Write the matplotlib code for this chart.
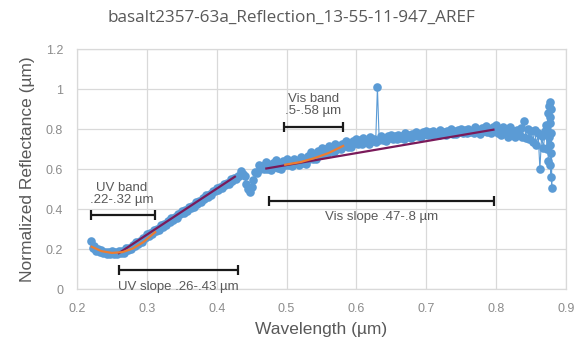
import numpy as np
import matplotlib
matplotlib.use("Agg")
import matplotlib.pyplot as plt

plt.rcParams["font.family"] = ["Liberation Sans", "DejaVu Sans"]

# ── Spectrum ─────────────────────────────────────────────────────────────────
WL_START = 0.220
WL_STEP = 0.0025
REFL_MAIN = [
    0.240, 0.205, 0.218, 0.190, 0.199, 0.186, 0.196, 0.180, 0.184, 0.175,
    0.186, 0.178, 0.189, 0.176, 0.184, 0.175, 0.190, 0.181, 0.189, 0.182,
    0.204, 0.195, 0.205, 0.200, 0.219, 0.217, 0.237, 0.227, 0.241, 0.237,
    0.258, 0.257, 0.275, 0.268, 0.281, 0.277, 0.295, 0.291, 0.301, 0.297,
    0.320, 0.313, 0.326, 0.320, 0.339, 0.338, 0.357, 0.347, 0.359, 0.356,
    0.375, 0.375, 0.391, 0.383, 0.396, 0.392, 0.411, 0.406, 0.416, 0.413,
    0.436, 0.428, 0.441, 0.436, 0.454, 0.453, 0.472, 0.462, 0.474, 0.470,
    0.490, 0.489, 0.505, 0.498, 0.510, 0.506, 0.525, 0.520, 0.530, 0.527,
    0.549, 0.542, 0.555, 0.549, 0.568, 0.567, 0.590, 0.575, 0.565, 0.524,
    0.500, 0.485, 0.510, 0.545, 0.588, 0.580, 0.622, 0.598, 0.615, 0.600,
    0.635, 0.602, 0.621, 0.594, 0.631, 0.612, 0.645, 0.606, 0.625, 0.602,
    0.639, 0.622, 0.650, 0.618, 0.640, 0.614, 0.652, 0.628, 0.641, 0.620,
    0.662, 0.631, 0.652, 0.627, 0.666, 0.649, 0.685, 0.649, 0.671, 0.651,
    0.691, 0.677, 0.707, 0.677, 0.701, 0.676, 0.715, 0.692, 0.705, 0.684,
    0.725, 0.702, 0.717, 0.698, 0.727, 0.714, 0.740, 0.712, 0.728, 0.711,
    0.740, 0.729, 0.750, 0.727, 0.744, 0.725, 0.754, 0.735, 0.744, 0.727,
    0.758, 0.739, 0.750, 0.735, 1.008, 0.746, 0.766, 0.743, 0.755, 0.742,
    0.764, 0.755, 0.771, 0.752, 0.765, 0.749, 0.772, 0.757, 0.764, 0.751,
    0.778, 0.759, 0.770, 0.755, 0.777, 0.766, 0.786, 0.763, 0.775, 0.762,
    0.784, 0.775, 0.791, 0.772, 0.785, 0.768, 0.791, 0.775, 0.782, 0.768,
    0.795, 0.775, 0.786, 0.770, 0.792, 0.780, 0.800, 0.776, 0.788, 0.774,
    0.796, 0.786, 0.802, 0.782, 0.795, 0.778, 0.801, 0.785, 0.792, 0.778,
    0.808, 0.783, 0.797, 0.776, 0.804, 0.789, 0.814, 0.784, 0.799, 0.780,
    0.812, 0.792, 0.819, 0.781, 0.802, 0.770, 0.809, 0.779, 0.789, 0.762,
    0.809, 0.771, 0.789, 0.758, 0.796, 0.773, 0.807, 0.762, 0.842, 0.754,
    0.800, 0.752, 0.790, 0.735, 0.796, 0.718, 0.780, 0.600, 0.765, 0.705,
    0.790,
]
# noisy end of the detector range
TAIL_WL = [0.8715, 0.8725, 0.8735, 0.8745, 0.8755, 0.8760, 0.8765, 0.8770,
           0.8775, 0.8780, 0.8785, 0.8790, 0.8795, 0.8785, 0.8775, 0.8770]
TAIL_REFL = [0.820, 0.700, 0.880, 0.640, 0.915, 0.760, 0.935, 0.860,
             0.620, 0.900, 0.560, 0.780, 0.505, 0.680, 0.830, 0.720]

# ── Fits ─────────────────────────────────────────────────────────────────────
UV_BAND_WL = [0.221, 0.235, 0.250, 0.265, 0.280, 0.295, 0.312]
UV_BAND_FIT = [0.212, 0.190, 0.181, 0.185, 0.203, 0.235, 0.285]
VIS_BAND_WL = [0.498, 0.520, 0.540, 0.560, 0.581]
VIS_BAND_FIT = [0.622, 0.635, 0.655, 0.680, 0.716]
UV_SLOPE_WL = [0.260, 0.426]
UV_SLOPE_FIT = [0.180, 0.562]
VIS_SLOPE_WL = [0.471, 0.796]
VIS_SLOPE_FIT = [0.603, 0.797]

# ── Range markers: (x0, x1, y) ───────────────────────────────────────────────
RANGES = [
    (0.220, 0.311, 0.370),  # UV band
    (0.260, 0.430, 0.098),  # UV slope
    (0.496, 0.581, 0.810),  # Vis band
    (0.475, 0.797, 0.440),  # Vis slope
]

BLUE = "#5B9BD5"
ORANGE = "#ED7D31"
PURPLE = "#7A1A5A"
TXT = "#595959"
GRID = "#D9D9D9"

wl = np.arange(len(REFL_MAIN)) * WL_STEP + WL_START
wl = np.concatenate([wl, TAIL_WL])
refl = np.concatenate([REFL_MAIN, TAIL_REFL])

fig = plt.figure(figsize=(5.83, 3.43), dpi=100)
ax = fig.add_axes([0.132, 0.157, 0.839, 0.700])

ax.plot(wl, refl, color=BLUE, lw=0.8, marker="o", markersize=6.2,
        markeredgewidth=0, zorder=3)

ax.plot(UV_BAND_WL, UV_BAND_FIT, color=ORANGE, lw=1.6, zorder=5)
ax.plot(VIS_BAND_WL, VIS_BAND_FIT, color=ORANGE, lw=1.6, zorder=5)
ax.plot(UV_SLOPE_WL, UV_SLOPE_FIT, color=PURPLE, lw=1.6, zorder=4)
ax.plot(VIS_SLOPE_WL, VIS_SLOPE_FIT, color=PURPLE, lw=1.6, zorder=4)

for x0, x1, y in RANGES:
    ax.errorbar((x0 + x1) / 2, y, xerr=(x1 - x0) / 2, fmt="none",
                ecolor="#1A1A1A", elinewidth=1.6, capsize=3.5, capthick=1.6,
                zorder=6)

ax.text(0.2645, 0.475, "UV band\n.22-.32 µm", ha="center", va="center",
        fontsize=9.5, color=TXT, linespacing=1.0)
ax.text(0.345, 0.012, "UV slope .26-.43 µm", ha="center", va="center",
        fontsize=9.5, color=TXT)
ax.text(0.538, 0.920, "Vis band\n.5-.58 µm", ha="center", va="center",
        fontsize=9.5, color=TXT, linespacing=1.0)
ax.text(0.636, 0.360, "Vis slope .47-.8 µm", ha="center", va="center",
        fontsize=9.5, color=TXT)

ax.set_xlim(0.2, 0.9)
ax.set_ylim(0, 1.2)
ax.set_xticks(np.arange(0.2, 0.91, 0.1))
ax.set_xticklabels(["0.2", "0.3", "0.4", "0.5", "0.6", "0.7", "0.8", "0.9"])
ax.set_yticks([0, 0.2, 0.4, 0.6, 0.8, 1.0, 1.2])
ax.set_yticklabels(["0", "0.2", "0.4", "0.6", "0.8", "1", "1.2"])
ax.tick_params(length=0, labelsize=9, labelcolor="#8C8C8C", pad=10)
ax.grid(True, color=GRID, lw=0.9)
ax.set_axisbelow(True)
for s in ax.spines.values():
    s.set_color(GRID)
    s.set_linewidth(0.9)

ax.set_xlabel("Wavelength (µm)", fontsize=12.5, color=TXT, labelpad=5)
ax.set_ylabel("Normalized Reflectance (µm)", fontsize=12.5, color=TXT,
              labelpad=8)
fig.text(0.5, 0.947, "basalt2357-63a_Reflection_13-55-11-947_AREF",
         ha="center", va="center", fontsize=12.3, color=TXT,
         family=["Open Sans", "DejaVu Sans"])

fig.savefig("out.png", dpi=100)
